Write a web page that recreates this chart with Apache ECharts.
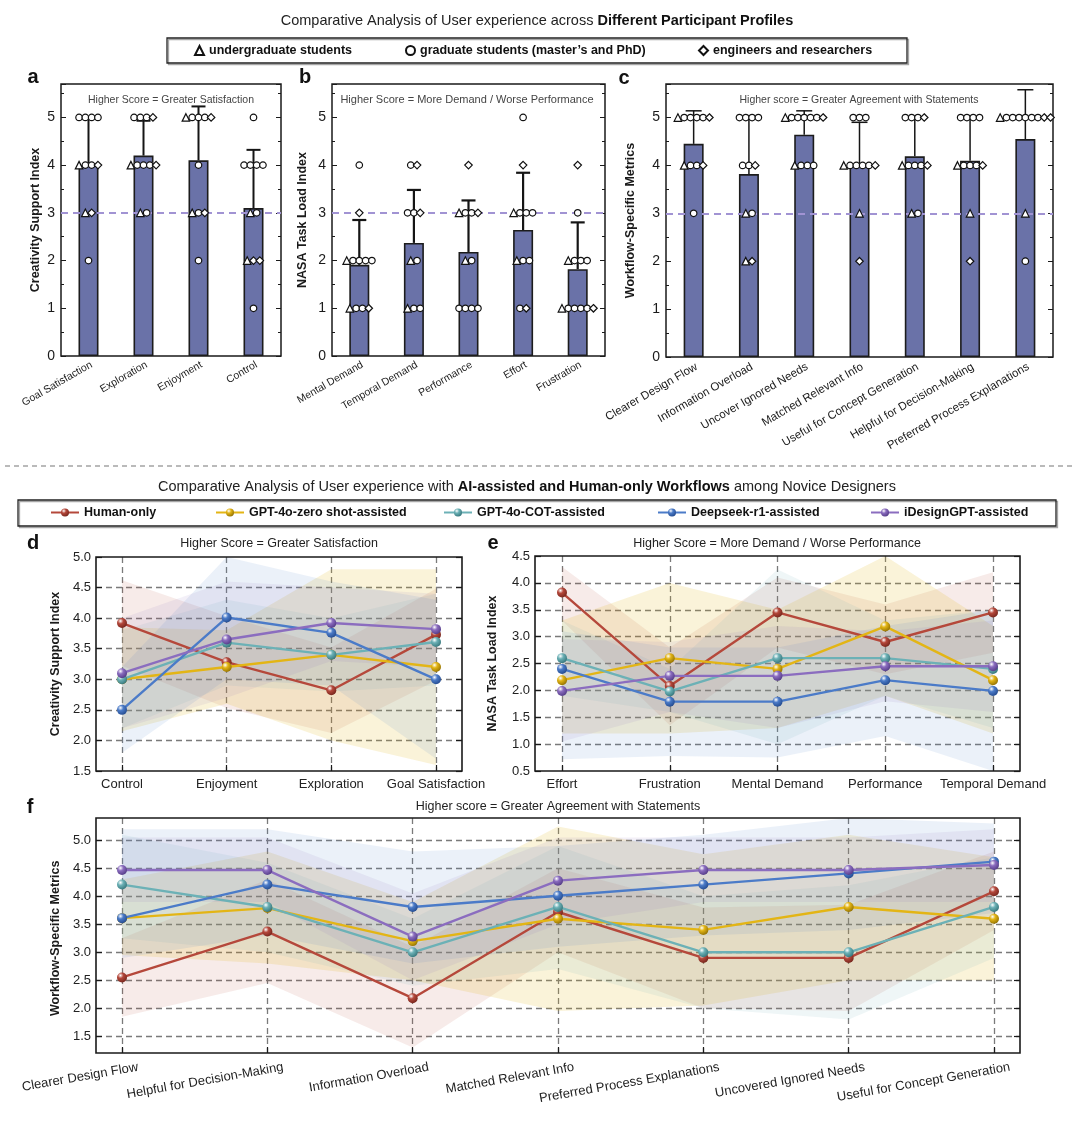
<!DOCTYPE html>
<html>
<head>
<meta charset="utf-8">
<script src="https://cdn.jsdelivr.net/npm/echarts@6.0.0/dist/echarts.min.js"></script>
<style>html,body{margin:0;padding:0;background:#fff;}#chart{width:1080px;height:1123px;}</style>
</head>
<body>
<div id="chart"></div>
<script>
// ================= DATA: top row (participant profiles) =================
const profileNames = ['undergraduate students', 'graduate students (master’s and PhD)', 'engineers and researchers'];
// point codes per level: t = undergraduate (triangle), o = graduate (circle), d = engineer (diamond)

const aCats = ['Goal Satisfaction', 'Exploration', 'Enjoyment', 'Control'];
const aMeans = [4.0, 4.2, 4.1, 3.1];
const aErrTop = [5.0, 4.93, 5.23, 4.32];
const aPoints = [
  ['5:oooo', '4:tood', '3:td', '2:o'],
  ['5:oood', '4:toood', '3:to'],
  ['5:toood', '4:o', '3:tod', '2:o'],
  ['5:o', '4:oooo', '3:to', '2:tdd', '1:o']
];

const bCats = ['Mental Demand', 'Temporal Demand', 'Performance', 'Effort', 'Frustration'];
const bMeans = [1.91, 2.37, 2.18, 2.64, 1.82];
const bErrTop = [2.85, 3.48, 3.26, 3.84, 2.8];
const bPoints = [
  ['4:o', '3:d', '2:toooo', '1:tood'],
  ['4:od', '3:ood', '2:to', '1:too'],
  ['4:d', '3:tood', '2:to', '1:oooo'],
  ['5:o', '4:d', '3:tooo', '2:too', '1:od'],
  ['4:d', '3:o', '2:tooo', '1:tooood']
];

const cCats = ['Clearer Design Flow', 'Information Overload', 'Uncover Ignored Needs', 'Matched Relevant Info',
  'Useful for Concept Generation', 'Helpful for Decision-Making', 'Preferred Process Explanations'];
const cMeans = [4.45, 3.82, 4.64, 3.99, 4.19, 4.1, 4.55];
const cErrTop = [5.14, 5.0, 5.14, 4.9, 5.0, 5.0, 5.58];
const cPoints = [
  ['5:tooood', '4:tood', '3:o'],
  ['5:oooo', '4:ood', '3:to', '2:td'],
  ['5:toooood', '4:tooo'],
  ['5:ooo', '4:tooood', '3:t', '2:d'],
  ['5:oood', '4:toood', '3:to'],
  ['5:oooo', '4:toood', '3:t', '2:d'],
  ['5:toooooodd', '3:t', '2:o']
];

// ================= DATA: bottom (workflows) =================
const workflowNames = ['Human-only', 'GPT-4o-zero shot-assisted', 'GPT-4o-COT-assisted', 'Deepseek-r1-assisted', 'iDesignGPT-assisted'];

const dCats = ['Control', 'Enjoyment', 'Exploration', 'Goal Satisfaction'];
const dMeans = [
  [3.92, 3.28, 2.82, 3.73],
  [3.0, 3.2, 3.4, 3.2],
  [3.0, 3.6, 3.4, 3.61],
  [2.5, 4.01, 3.76, 3.0],
  [3.1, 3.65, 3.92, 3.82]
];
const dLow = [
  [3.22, 2.53, 2.12, 2.98],
  [2.15, 2.6, 2.0, 1.6],
  [2.2, 2.9, 2.8, 2.9],
  [1.8, 3.0, 2.9, 1.7],
  [2.2, 2.7, 3.3, 3.2]
];
const dHigh = [
  [4.62, 4.03, 3.52, 4.48],
  [3.85, 3.8, 4.8, 4.8],
  [3.8, 4.3, 4.0, 4.4],
  [3.2, 5.0, 4.6, 4.3],
  [4.0, 4.6, 4.5, 4.4]
];

const eCats = ['Effort', 'Frustration', 'Mental Demand', 'Performance', 'Temporal Demand'];
const eMeans = [
  [3.82, 2.08, 3.45, 2.9, 3.45],
  [2.19, 2.6, 2.4, 3.19, 2.19],
  [2.6, 1.98, 2.6, 2.6, 2.4],
  [2.4, 1.79, 1.79, 2.19, 1.99],
  [1.99, 2.27, 2.27, 2.45, 2.45]
];
const eLow = [
  [3.3, 1.35, 2.8, 2.3, 2.7],
  [1.2, 1.2, 1.3, 1.9, 1.2],
  [1.9, 1.6, 1.0, 1.9, 1.3],
  [0.72, 0.78, 0.75, 1.15, 0.5],
  [1.05, 1.6, 1.3, 1.8, 1.6]
];
const eHigh = [
  [4.3, 2.8, 4.1, 3.6, 4.2],
  [3.3, 4.0, 3.5, 4.5, 3.2],
  [3.3, 2.4, 4.25, 3.3, 3.5],
  [3.1, 2.8, 2.8, 3.2, 3.5],
  [2.95, 2.9, 3.2, 3.1, 3.3]
];

const fCats = ['Clearer Design Flow', 'Helpful for Decision-Making', 'Information Overload', 'Matched Relevant Info',
  'Preferred Process Explanations', 'Uncovered Ignored Needs', 'Useful for Concept Generation'];
const fMeans = [
  [2.55, 3.37, 2.18, 3.72, 2.9, 2.9, 4.09],
  [3.61, 3.79, 3.2, 3.6, 3.4, 3.81, 3.6],
  [4.21, 3.81, 3.0, 3.81, 3.0, 3.0, 3.81],
  [3.61, 4.21, 3.81, 4.01, 4.21, 4.41, 4.62],
  [4.47, 4.47, 3.28, 4.28, 4.47, 4.47, 4.56]
];
const fLow = [
  [1.85, 2.45, 1.3, 3.0, 2.0, 1.95, 3.4],
  [2.95, 2.8, 2.5, 1.95, 2.05, 2.5, 2.5],
  [3.25, 3.0, 2.4, 2.7, 2.0, 1.8, 2.9],
  [2.9, 3.3, 2.8, 3.1, 3.3, 3.4, 3.7],
  [3.9, 3.9, 2.5, 3.5, 3.9, 3.9, 3.9]
];
const fHigh = [
  [3.25, 4.3, 3.1, 4.5, 3.8, 3.85, 4.8],
  [4.3, 4.8, 3.9, 5.25, 4.75, 5.1, 4.7],
  [5.1, 4.6, 3.6, 4.9, 4.0, 4.2, 4.7],
  [5.2, 5.2, 4.8, 4.9, 5.1, 5.4, 5.3],
  [5.05, 5.05, 4.05, 5.05, 5.05, 5.05, 5.2]
];

// ================= STYLE =================
const FONT = "'Liberation Sans', Arial, Helvetica, sans-serif";
const lineColors = ['#b5483b', '#e3b515', '#6cb1b6', '#4b7bc8', '#8b6dbf'];
const darkColors = ['#6e2219', '#8a6a00', '#2f6f74', '#1f4588', '#4d3580'];
const bandOpacity = [0.11, 0.16, 0.11, 0.11, 0.1];
const symbolMap = { t: ['triangle', 7.5, 0], o: ['circle', 6.5, 1], d: ['diamond', 7.5, 2] };
const pointGap = 6.3;

const grid = [], xAxis = [], yAxis = [], series = [], graphic = [], legend = [];
const add = (arr, o) => { arr.push(o); return arr.length - 1; };
const sphere = (c, d) => ({ type: 'radial', x: 0.35, y: 0.3, r: 0.8,
  colorStops: [{ offset: 0, color: '#ffffff' }, { offset: 0.35, color: c }, { offset: 1, color: d }] });

function txt(x, y, text, size, weight, fill) {
  graphic.push({ type: 'text', x, y, silent: true, z: 10,
    style: { text, fill: fill || '#222', fontFamily: FONT, fontSize: size, fontWeight: weight || 'normal',
      align: 'center', verticalAlign: 'middle', textAlign: 'center', textVerticalAlign: 'middle' } });
}

// ---------- bar panel (top row) ----------
function barPanel(p) {
  const g = add(grid, { left: p.left, top: p.top, width: p.width, height: p.height, show: true,
    borderColor: '#1a1a1a', borderWidth: 1.5, backgroundColor: 'rgba(0,0,0,0)' });
  const xi = add(xAxis, { type: 'category', gridIndex: g, data: p.cats, axisLine: { show: false },
    axisTick: { show: false }, axisLabel: { show: false }, splitLine: { show: false } });
  const yBase = () => ({ type: 'value', gridIndex: g, min: 0, max: 5.7, interval: 1, splitLine: { show: false },
    axisLine: { show: false },
    axisTick: { show: true, inside: true, length: 5, lineStyle: { color: '#1a1a1a', width: 1 } },
    minorTick: { show: true, splitNumber: 2, length: 3, lineStyle: { color: '#1a1a1a', width: 1 } } });
  const yi = add(yAxis, Object.assign(yBase(), { position: 'left', name: p.yName, nameLocation: 'middle',
    nameGap: p.nameGap, nameTextStyle: { fontFamily: FONT, fontWeight: 'bold', fontSize: 12.5, color: '#1a1a1a' },
    axisLabel: { fontFamily: FONT, fontSize: 14, color: '#1a1a1a', margin: 6,
      formatter: v => (Math.abs(v - Math.round(v)) < 1e-9 ? String(Math.round(v)) : '') } }));
  add(yAxis, Object.assign(yBase(), { position: 'right', axisLabel: { show: false } }));

  series.push({ type: 'bar', xAxisIndex: xi, yAxisIndex: yi, data: p.means, barWidth: 20, z: 2, silent: true,
    itemStyle: { color: '#6a72a8', borderColor: '#1c1c1c', borderWidth: 1.6 },
    markLine: { silent: true, symbol: ['none', 'none'], z: 5, label: { show: false },
      lineStyle: { type: [7, 5], color: '#a193d3', width: 2 }, data: [{ yAxis: 3 }] } });

  series.push({ type: 'custom', xAxisIndex: xi, yAxisIndex: yi, z: 4, silent: true,
    data: p.cats.map((c, i) => [i, p.means[i], p.errTop[i]]),
    renderItem: (params, api) => {
      const b = api.coord([api.value(0), api.value(1)]);
      const t = api.coord([api.value(0), api.value(2)]);
      const st = { stroke: '#151515', lineWidth: p.errW };
      return { type: 'group', children: [
        { type: 'line', shape: { x1: b[0], y1: b[1], x2: t[0], y2: t[1] }, style: st },
        { type: 'line', shape: { x1: t[0] - p.cap, y1: t[1], x2: t[0] + p.cap, y2: t[1] }, style: st }
      ] };
    } });

  ['t', 'o', 'd'].forEach(key => {
    const data = [];
    p.pts.forEach((levels, ci) => levels.forEach(s => {
      const [lv, syms] = s.split(':');
      const n = syms.length;
      syms.split('').forEach((ch, k) => {
        if (ch === key) data.push({ value: [ci, +lv], symbolOffset: [(k - (n - 1) / 2) * pointGap, 0] });
      });
    }));
    series.push({ type: 'scatter', name: profileNames[symbolMap[key][2]], xAxisIndex: xi, yAxisIndex: yi,
      symbol: symbolMap[key][0], symbolSize: symbolMap[key][1], z: 6, silent: true,
      itemStyle: { color: '#ffffff', borderColor: '#111', borderWidth: 1.2, opacity: 1 }, data });
  });

  // rotated category labels (slightly shifted like the reference)
  const gl = add(grid, { left: p.left + p.lshift, top: p.top, width: p.width, height: p.height, show: false });
  add(xAxis, { type: 'category', gridIndex: gl, data: p.cats, axisLine: { show: false }, axisTick: { show: false },
    splitLine: { show: false },
    axisLabel: { interval: 0, rotate: 30, margin: p.lmargin, fontFamily: FONT, fontSize: p.lfont, color: '#1a1a1a' } });
  add(yAxis, { type: 'value', gridIndex: gl, show: false });
}

// ---------- line panel (bottom) ----------
function linePanel(p) {
  const span = p.yFrame[1] - p.yFrame[0];
  const pix = v => p.top + (p.yFrame[1] - v) / span * p.height;
  const dash = () => ({ type: [6, 4], color: '#7a7a7a', width: 1.3 });

  const gf = add(grid, { left: p.left, top: p.top, width: p.width, height: p.height, show: true,
    borderColor: '#1a1a1a', borderWidth: 1.6, backgroundColor: 'rgba(0,0,0,0)', z: 5 });
  add(xAxis, { type: 'value', gridIndex: gf, show: false });
  add(yAxis, { type: 'value', gridIndex: gf, show: false });

  const gy = add(grid, { left: p.left, top: pix(p.yTick[1]), width: p.width,
    height: pix(p.yTick[0]) - pix(p.yTick[1]), show: false });
  add(xAxis, { type: 'value', gridIndex: gy, show: false });
  const yb = () => ({ type: 'value', gridIndex: gy, min: p.yTick[0], max: p.yTick[1], interval: p.yTick[2],
    axisLine: { show: false },
    axisTick: { show: true, inside: true, length: 6, lineStyle: { color: '#1a1a1a', width: 1.2 } } });
  add(yAxis, Object.assign(yb(), { position: 'left', name: p.yName, nameLocation: 'middle', nameGap: p.nameGap,
    nameTextStyle: { fontFamily: FONT, fontWeight: 'bold', fontSize: 12.5, color: '#1a1a1a' },
    axisLabel: { fontFamily: FONT, fontSize: 13, color: '#222', margin: 5, formatter: v => v.toFixed(1) },
    splitLine: { show: true, showMinLine: p.edgeLines, showMaxLine: p.edgeLines, lineStyle: dash() } }));
  add(yAxis, Object.assign(yb(), { position: 'right', axisLabel: { show: false }, splitLine: { show: false } }));

  const gx = add(grid, { left: p.left + p.pad, top: p.top, width: p.width - 2 * p.pad, height: p.height, show: false });
  const xi = add(xAxis, { type: 'category', gridIndex: gx, data: p.cats, boundaryGap: false, axisLine: { show: false },
    axisTick: { show: true, inside: true, length: 6, interval: 0, lineStyle: { color: '#1a1a1a', width: 1.2 } },
    axisLabel: p.lshift ? { show: false } : { interval: 0, margin: 7, fontFamily: FONT, fontSize: 13, color: '#222' },
    splitLine: { show: true, interval: 0, lineStyle: dash() } });
  const yi = add(yAxis, { type: 'value', gridIndex: gx, min: p.yFrame[0], max: p.yFrame[1], show: false });

  workflowNames.forEach((nm, k) => {
    const stack = p.id + '-band-' + k;
    series.push({ type: 'line', name: '_lo', xAxisIndex: xi, yAxisIndex: yi, stack, data: p.low[k], symbol: 'none',
      lineStyle: { width: 0, opacity: 0 }, silent: true, z: 1 });
    series.push({ type: 'line', name: '_band', xAxisIndex: xi, yAxisIndex: yi, stack,
      data: p.high[k].map((h, i) => +(h - p.low[k][i]).toFixed(4)), symbol: 'none',
      lineStyle: { width: 0, opacity: 0 }, areaStyle: { color: lineColors[k], opacity: bandOpacity[k] },
      silent: true, z: 1 });
  });
  workflowNames.forEach((nm, k) => {
    series.push({ type: 'line', name: nm, xAxisIndex: xi, yAxisIndex: yi, data: p.means[k], symbol: 'circle',
      symbolSize: 10, showSymbol: true, silent: true, z: 3,
      lineStyle: { color: lineColors[k], width: 2.4 },
      itemStyle: { color: sphere(lineColors[k], darkColors[k]), borderWidth: 0 } });
  });

  if (p.lshift) {
    const gl = add(grid, { left: p.left + p.pad + p.lshift, top: p.top, width: p.width - 2 * p.pad, height: p.height, show: false });
    add(xAxis, { type: 'category', gridIndex: gl, data: p.cats, boundaryGap: false, axisLine: { show: false },
      axisTick: { show: false }, splitLine: { show: false },
      axisLabel: { interval: 0, rotate: p.rot, margin: p.lmargin, fontFamily: FONT, fontSize: 13, color: '#222' } });
    add(yAxis, { type: 'value', gridIndex: gl, show: false });
  }
}

// ================= BUILD =================
barPanel({ left: 61, top: 84, width: 220, height: 272, cats: aCats, means: aMeans, errTop: aErrTop, pts: aPoints,
  yName: 'Creativity Support Index', nameGap: 19, errW: 2, cap: 7, lshift: 3, lmargin: 8, lfont: 10.5 });
barPanel({ left: 332, top: 84, width: 273, height: 272, cats: bCats, means: bMeans, errTop: bErrTop, pts: bPoints,
  yName: 'NASA Task Load Index', nameGap: 23, errW: 2.2, cap: 7, lshift: 3, lmargin: 8, lfont: 10.5 });
barPanel({ left: 666, top: 84, width: 387, height: 273, cats: cCats, means: cMeans, errTop: cErrTop, pts: cPoints,
  yName: 'Workflow-Specific Metrics', nameGap: 29, errW: 1.5, cap: 8, lshift: 3, lmargin: 9, lfont: 11.5 });

linePanel({ id: 'd', left: 96, top: 557, width: 366, height: 214, pad: 26, yFrame: [1.5, 5.0], yTick: [1.5, 5.0, 0.5],
  edgeLines: false, cats: dCats, means: dMeans, low: dLow, high: dHigh, yName: 'Creativity Support Index', nameGap: 34 });
linePanel({ id: 'e', left: 535, top: 556, width: 485, height: 215, pad: 27, yFrame: [0.5, 4.5], yTick: [0.5, 4.5, 0.5],
  edgeLines: false, cats: eCats, means: eMeans, low: eLow, high: eHigh, yName: 'NASA Task Load Index', nameGap: 36 });
linePanel({ id: 'f', left: 96, top: 818, width: 924, height: 235, pad: 26, yFrame: [1.2, 5.4], yTick: [1.5, 5.0, 0.5],
  edgeLines: true, cats: fCats, means: fMeans, low: fLow, high: fHigh, yName: 'Workflow-Specific Metrics', nameGap: 32,
  lshift: 16, rot: 10, lmargin: 14 });

// ================= TEXT / LEGENDS =================
graphic.push({ type: 'text', x: 537, y: 21, silent: true, style: {
  text: '{n|Comparative Analysis of User experience across }{b|Different Participant Profiles}',
  align: 'center', verticalAlign: 'middle', textAlign: 'center', textVerticalAlign: 'middle',
  rich: { n: { fontFamily: FONT, fontSize: 14.5, fill: '#222' }, b: { fontFamily: FONT, fontSize: 14.5, fontWeight: 'bold', fill: '#111' } } } });
graphic.push({ type: 'text', x: 527, y: 487, silent: true, style: {
  text: '{n|Comparative Analysis of User experience with }{b|AI-assisted and Human-only Workflows}{n| among Novice Designers}',
  align: 'center', verticalAlign: 'middle', textAlign: 'center', textVerticalAlign: 'middle',
  rich: { n: { fontFamily: FONT, fontSize: 14.5, fill: '#222' }, b: { fontFamily: FONT, fontSize: 14.5, fontWeight: 'bold', fill: '#111' } } } });

graphic.push({ type: 'rect', silent: true, z: -1, shape: { x: 167, y: 38, width: 740, height: 25 },
  style: { fill: 'none', stroke: '#222', lineWidth: 1.3, shadowColor: 'rgba(0,0,0,0.35)', shadowOffsetX: 1.5, shadowOffsetY: 1.5, shadowBlur: 0 } });
graphic.push({ type: 'rect', silent: true, z: -1, shape: { x: 18, y: 500, width: 1038, height: 26 },
  style: { fill: 'none', stroke: '#222', lineWidth: 1.3, shadowColor: 'rgba(0,0,0,0.35)', shadowOffsetX: 1.5, shadowOffsetY: 1.5, shadowBlur: 0 } });
graphic.push({ type: 'line', silent: true, shape: { x1: 5, y1: 466, x2: 1075, y2: 466 },
  style: { stroke: '#777', lineWidth: 1.2, lineDash: [5, 4] } });

txt(33, 77, 'a', 20, 'bold', '#111');
txt(305, 77, 'b', 20, 'bold', '#111');
txt(624, 78, 'c', 20, 'bold', '#111');
txt(33, 543, 'd', 20, 'bold', '#111');
txt(493, 543, 'e', 20, 'bold', '#111');
txt(30, 807, 'f', 20, 'bold', '#111');

txt(171, 100, 'Higher Score = Greater Satisfaction', 10.5, 'normal', '#444');
txt(467, 100, 'Higher Score = More Demand / Worse Performance', 11, 'normal', '#444');
txt(859, 100, 'Higher score = Greater Agreement with Statements', 10.5, 'normal', '#444');
txt(279, 544, 'Higher Score = Greater Satisfaction', 12.5, 'normal', '#222');
txt(777, 544, 'Higher Score = More Demand / Worse Performance', 12.5, 'normal', '#222');
txt(558, 807, 'Higher score = Greater Agreement with Statements', 12.5, 'normal', '#222');

[194, 405, 698].forEach((x, k) => legend.push({ left: x, top: 44, padding: 0, itemWidth: 9, itemHeight: 9,
  selectedMode: false, data: [profileNames[k]],
  textStyle: { fontFamily: FONT, fontWeight: 'bold', fontSize: 12.5, color: '#111' } }));
[50, 215, 443, 657, 870].forEach((x, k) => legend.push({ left: x, top: 506, padding: 0, itemWidth: 28, itemHeight: 10,
  selectedMode: false, data: [workflowNames[k]],
  textStyle: { fontFamily: FONT, fontWeight: 'bold', fontSize: 12.5, color: '#111' } }));

const chart = echarts.init(document.getElementById('chart'), null, { renderer: 'canvas' });
chart.setOption({ animation: false, backgroundColor: '#ffffff', textStyle: { fontFamily: FONT },
  grid, xAxis, yAxis, series, graphic, legend });
</script>
</body>
</html>
